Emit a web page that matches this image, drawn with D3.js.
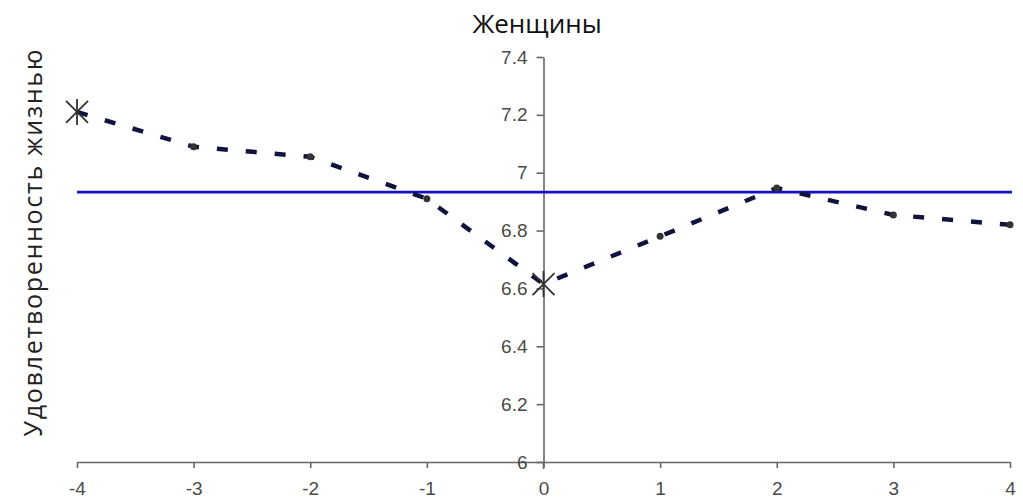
<!DOCTYPE html>
<html>
<head>
<meta charset="utf-8">
<script src="https://cdn.jsdelivr.net/npm/d3@7"></script>
<style>
  body { margin: 0; background: #fff; }
  text { font-family: "Liberation Sans", Arial, sans-serif; }
</style>
</head>
<body>
<div id="chart"></div>
<script>
// data
const years = [-4, -3, -2, -1, 0, 1, 2, 3, 4];
const satisfaction = [7.21, 7.09, 7.055, 6.91, 6.615, 6.78, 6.947, 6.854, 6.82];
const baseline = 6.933;
const starYears = [-4, 0];
const yTicks = [6, 6.2, 6.4, 6.6, 6.8, 7, 7.2, 7.4];

const width = 1023, height = 502;
const svg = d3.select('#chart').append('svg')
    .attr('width', width)
    .attr('height', height);

const x = d3.scaleLinear().domain([-4, 4]).range([77, 1010]);
const y = d3.scaleLinear().domain([6, 7.4]).range([462, 57]);

// x axis (at y = 6)
const xAxis = svg.append('g')
    .attr('transform', `translate(0,${y(6)})`)
    .call(d3.axisBottom(x).tickValues(years).tickSize(6).tickSizeOuter(0).tickPadding(14)
        .tickFormat(d => String(d)));

// y axis (at x = 0)
const yAxis = svg.append('g')
    .attr('transform', `translate(${x(0)},0)`)
    .call(d3.axisLeft(y).tickValues(yTicks).tickSize(7).tickSizeOuter(0).tickPadding(9)
        .tickFormat(d3.format('')));

[xAxis, yAxis].forEach(g => {
    g.select('.domain').attr('stroke', '#666').attr('stroke-width', 1.6);
    g.selectAll('.tick line').attr('stroke', '#666').attr('stroke-width', 1.6);
    g.selectAll('.tick text').attr('fill', '#4a4a4a').style('font-size', '19px');
});
// y axis line continues a bit below the x axis
yAxis.append('line')
    .attr('x1', 0).attr('x2', 0)
    .attr('y1', y(6)).attr('y2', y(6) + 7)
    .attr('stroke', '#666').attr('stroke-width', 1.6);

// horizontal mean line
svg.append('line')
    .attr('x1', x(-4)).attr('x2', x(4) + 2)
    .attr('y1', y(baseline)).attr('y2', y(baseline))
    .attr('stroke', '#1414c4')
    .attr('stroke-width', 2.6);

// dashed series
const line = d3.line()
    .x((d, i) => x(years[i]))
    .y(d => y(d));

svg.append('path')
    .datum(satisfaction)
    .attr('d', line)
    .attr('fill', 'none')
    .attr('stroke', '#12123e')
    .attr('stroke-width', 4.5)
    .attr('stroke-dasharray', '11,18');

// small dots
svg.selectAll('.dot')
    .data(years.filter(t => !starYears.includes(t)))
    .enter()
    .append('circle')
    .attr('class', 'dot')
    .attr('cx', d => x(d))
    .attr('cy', d => y(satisfaction[years.indexOf(d)]))
    .attr('r', 3.5)
    .attr('fill', '#333');

// asterisk markers
const star = svg.selectAll('.star')
    .data(starYears)
    .enter()
    .append('g')
    .attr('class', 'star')
    .attr('transform', d => `translate(${x(d)},${y(satisfaction[years.indexOf(d)])})`);
star.append('path')
    .attr('d', 'M-11,-11L11,11M-11,11L11,-11M0,-13L0,13')
    .attr('stroke', '#333')
    .attr('stroke-width', 1.8)
    .attr('fill', 'none');

// title
svg.append('text')
    .attr('x', 537)
    .attr('y', 33)
    .attr('text-anchor', 'middle')
    .style('font-family', '"Open Sans", sans-serif')
    .style('font-size', '26px')
    .attr('fill', '#111')
    .text('Женщины');

// y label
svg.append('text')
    .attr('transform', 'translate(42,243) rotate(-90)')
    .attr('text-anchor', 'middle')
    .attr('textLength', 387)
    .attr('lengthAdjust', 'spacing')
    .style('font-family', '"Open Sans", sans-serif')
    .style('font-size', '25px')
    .attr('fill', '#222')
    .text('Удовлетворенность жизнью');
</script>
</body>
</html>
